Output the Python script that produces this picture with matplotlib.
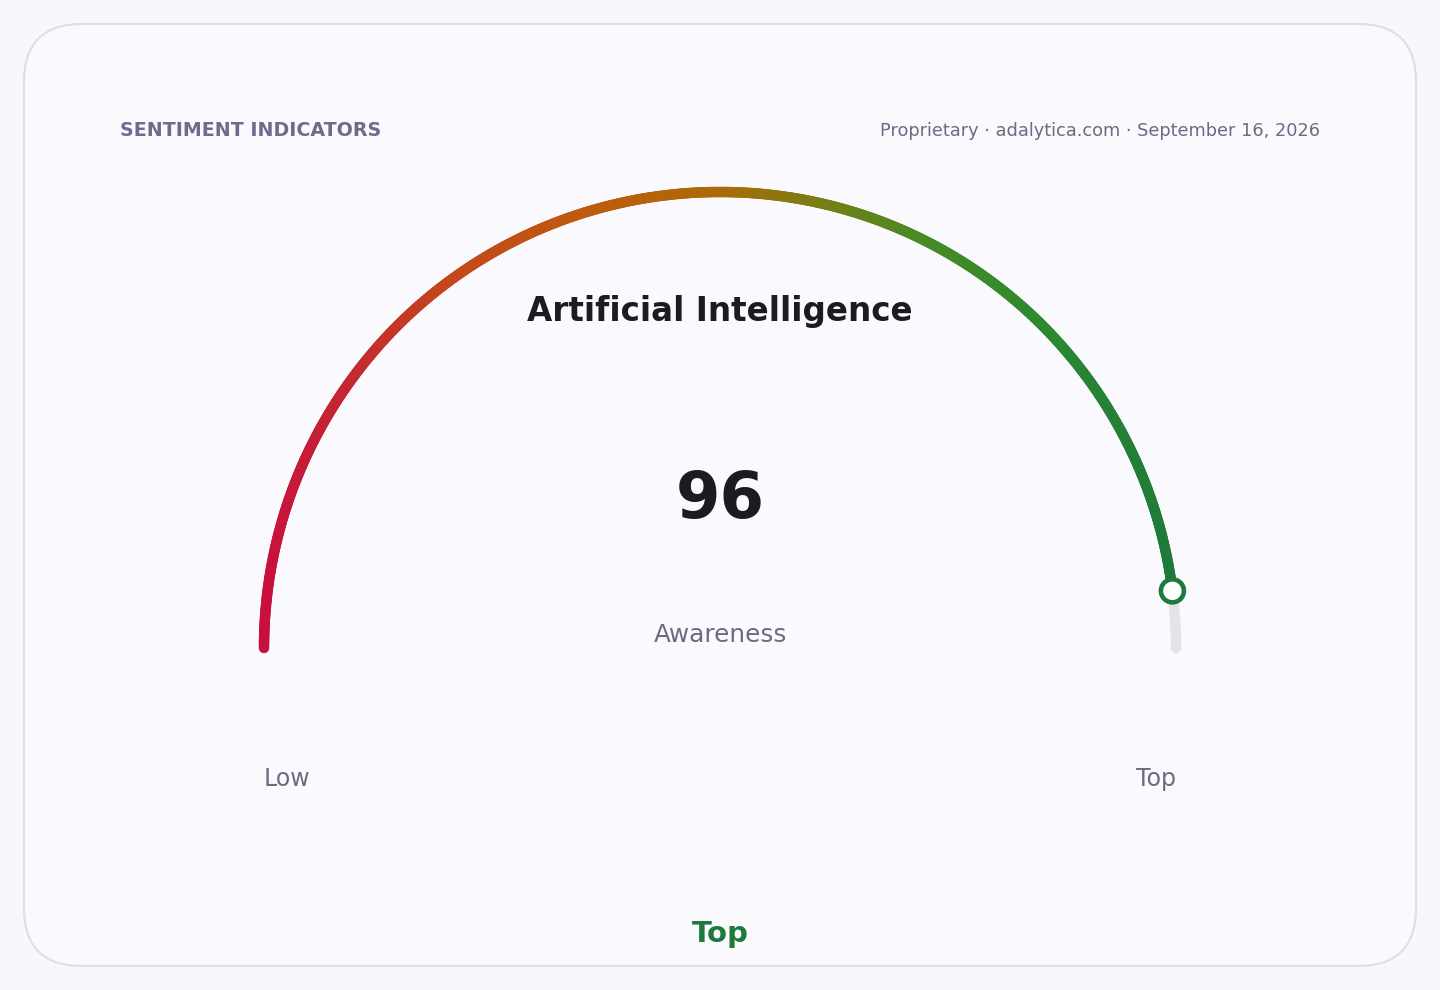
import numpy as np
import matplotlib
matplotlib.use("Agg")
import matplotlib.pyplot as plt
from matplotlib.collections import LineCollection
from matplotlib.colors import LinearSegmentedColormap
from matplotlib.patches import FancyBboxPatch, Circle

# chart data
title = "Artificial Intelligence"
metric = "Awareness"
value = 96
scale_min, scale_max = 0, 100
end_labels = ["Low", "Top"]
rating = "Top"
header_left = "SENTIMENT INDICATORS"
header_right = "Proprietary \u00b7 adalytica.com \u00b7 September 16, 2026"

# gauge colours (red -> amber -> green, along the width of the gauge)
grad = LinearSegmentedColormap.from_list("gauge", [
    (0.0, "#c8103e"), (0.1, "#c42a30"), (0.2, "#c4461c"), (0.35, "#bf5a0e"),
    (0.5, "#ad6a08"), (0.6, "#7e7c12"), (0.72, "#4a8a24"), (0.85, "#2e8a2e"),
    (1.0, "#1e7a3a")])
green = "#1e7a3a"
muted = "#6b6b82"

fig = plt.figure(figsize=(14.4, 9.9), dpi=100)
fig.patch.set_facecolor("#f8f8fc")
ax = fig.add_axes([0, 0, 1, 1])
ax.set_xlim(0, 1440)
ax.set_ylim(990, 0)
ax.axis("off")

# card
card = FancyBboxPatch((24, 24), 1392, 942, boxstyle="round,pad=0,rounding_size=58",
                      facecolor="#f9f9fe", edgecolor="#dedeed", linewidth=1.6)
ax.add_patch(card)

# gauge geometry
cx, cy, r = 720, 648, 456
frac = (value - scale_min) / (scale_max - scale_min)

# grey track (full half circle)
t = np.linspace(np.pi, 0, 400)
ax.plot(cx + r * np.cos(t), cy - r * np.sin(t), color="#e3e3e9",
        linewidth=7.5, solid_capstyle="round", zorder=2)

# coloured arc up to the value
t = np.linspace(np.pi, np.pi * (1 - frac), 600)
xs = cx + r * np.cos(t)
ys = cy - r * np.sin(t)
pts = np.column_stack([xs, ys]).reshape(-1, 1, 2)
segs = np.concatenate([pts[:-1], pts[1:]], axis=1)
cpos = ((xs[:-1] + xs[1:]) / 2 - (cx - r)) / (2 * r)
lc = LineCollection(segs, colors=grad(cpos), linewidths=7.5, capstyle="round", zorder=3)
ax.add_collection(lc)

# value marker
ang = np.pi * (1 - frac)
ax.add_patch(Circle((cx + r * np.cos(ang), cy - r * np.sin(ang)), 11.5,
                    facecolor="white", edgecolor=green, linewidth=3.3, zorder=4))

# texts
ax.text(120, 130, header_left, fontsize=13.7, fontweight="bold", color="#6e6b8c",
        ha="left", va="center")
ax.text(1320, 131, header_right, fontsize=12.8, color=muted, ha="right", va="center")
ax.text(720, 311, title, fontsize=23.5, fontweight="bold", color="#1b1b24",
        ha="center", va="center")
ax.text(720, 500, str(value), fontsize=46, fontweight="bold", color="#1b1b24",
        ha="center", va="center")
ax.text(720, 635, metric, fontsize=17.8, color=muted, ha="center", va="center")
ax.text(cx - r, 779, end_labels[0], fontsize=17, color=muted, ha="left", va="center")
ax.text(cx + r, 779, end_labels[1], fontsize=17, color=muted, ha="right", va="center")
ax.text(720, 934, rating, fontsize=21, fontweight="bold", color=green,
        ha="center", va="center")

fig.savefig("out.png", dpi=100, facecolor=fig.get_facecolor())
